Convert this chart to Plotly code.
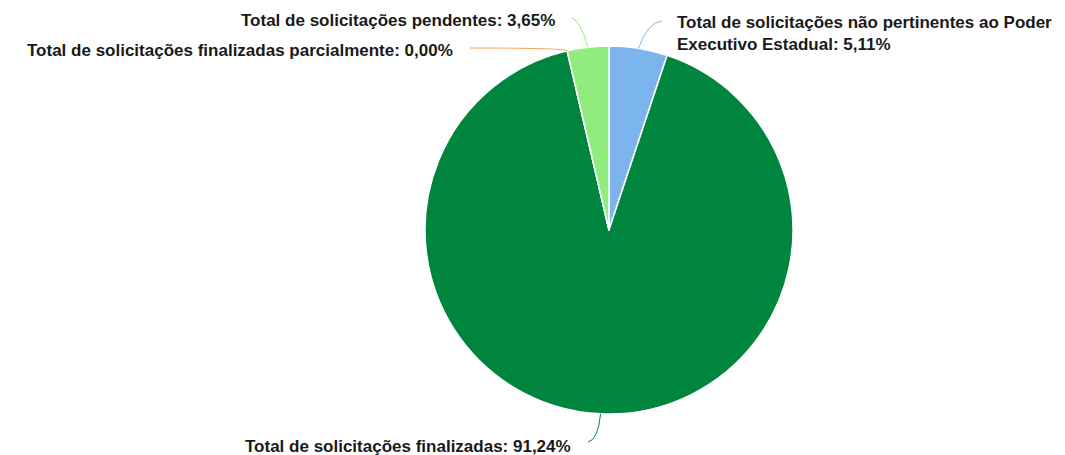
import math
import plotly.graph_objects as go

# ---- data ----
categories = [
    "Total de solicitações não pertinentes ao Poder<br>Executivo Estadual",
    "Total de solicitações finalizadas",
    "Total de solicitações finalizadas parcialmente",
    "Total de solicitações pendentes",
]
values = [5.11, 91.24, 0.00, 3.65]
colors = ["#7cb5ec", "#00853f", "#f7a35c", "#90ed7d"]

# ---- layout geometry (pixels, in screenshot coordinates) ----
W, H = 1065, 455
OFF = 8  # page body margin shifts the figure by 8px
CX, CY, R = 609 - OFF, 230 - OFF, 184

def px2paper(x, y):
    return x / W, 1 - y / H

fig = go.Figure()
fig.add_trace(go.Pie(
    labels=[c.replace("<br>", " ") for c in categories],
    values=values,
    sort=False,
    direction="clockwise",
    rotation=0,
    textinfo="none",
    marker=dict(colors=colors, line=dict(color="#ffffff", width=1.5)),
    domain=dict(x=[(CX - R) / W, (CX + R) / W], y=[1 - (CY + R) / H, 1 - (CY - R) / H]),
    showlegend=False,
    hoverinfo="label+percent",
))

# mid-angle of each slice (clockwise from 12 o'clock)
total = sum(values)
mids = []
acc = 0.0
for v in values:
    mids.append((acc + v / 2) / total * 2 * math.pi)
    acc += v

def edge(theta):
    return CX + R * math.sin(theta), CY - R * math.cos(theta)

def sh(x, y):
    return x - OFF, y - OFF

# label placement (screenshot px)
label_layout = [
    dict(x=675, y=33, xanchor="left", end=(662, 21), ctrl=(648, 22)),
    dict(x=573, y=446, xanchor="right", end=(588, 442), ctrl=(598, 440)),
    dict(x=455, y=50, xanchor="right", end=(470, 48), ctrl=(565, 48)),
    dict(x=557, y=20, xanchor="right", end=(572, 18), ctrl=(580, 20)),
]

annotations = []
shapes = []
for name, v, col, mid, lay in zip(categories, values, colors, mids, label_layout):
    text = "<b>" + f"{name}: {v:.2f}%".replace(".", ",").replace("<br>", "</b><br><b>") + "</b>"
    ax_, ay_ = px2paper(*sh(lay["x"], lay["y"]))
    annotations.append(dict(
        x=ax_, y=ay_, xref="paper", yref="paper", text=text, showarrow=False,
        xanchor=lay["xanchor"], yanchor="middle", align="left",
        font=dict(family="Liberation Sans, Arial, sans-serif", size=17, color="#1a1a1a"),
    ))
    sx, sy = edge(mid)
    p0 = px2paper(sx, sy)
    c = px2paper(*sh(*lay["ctrl"]))
    p1 = px2paper(*sh(*lay["end"]))
    shapes.append(dict(
        type="path", xref="paper", yref="paper",
        path=f"M {p0[0]} {p0[1]} Q {c[0]} {c[1]} {p1[0]} {p1[1]}",
        line=dict(color=col, width=1),
    ))

fig.update_layout(
    width=W, height=H,
    margin=dict(l=0, r=0, t=0, b=0),
    paper_bgcolor="#ffffff",
    plot_bgcolor="#ffffff",
    annotations=annotations,
    shapes=shapes,
)

fig.write_html("out.html")
